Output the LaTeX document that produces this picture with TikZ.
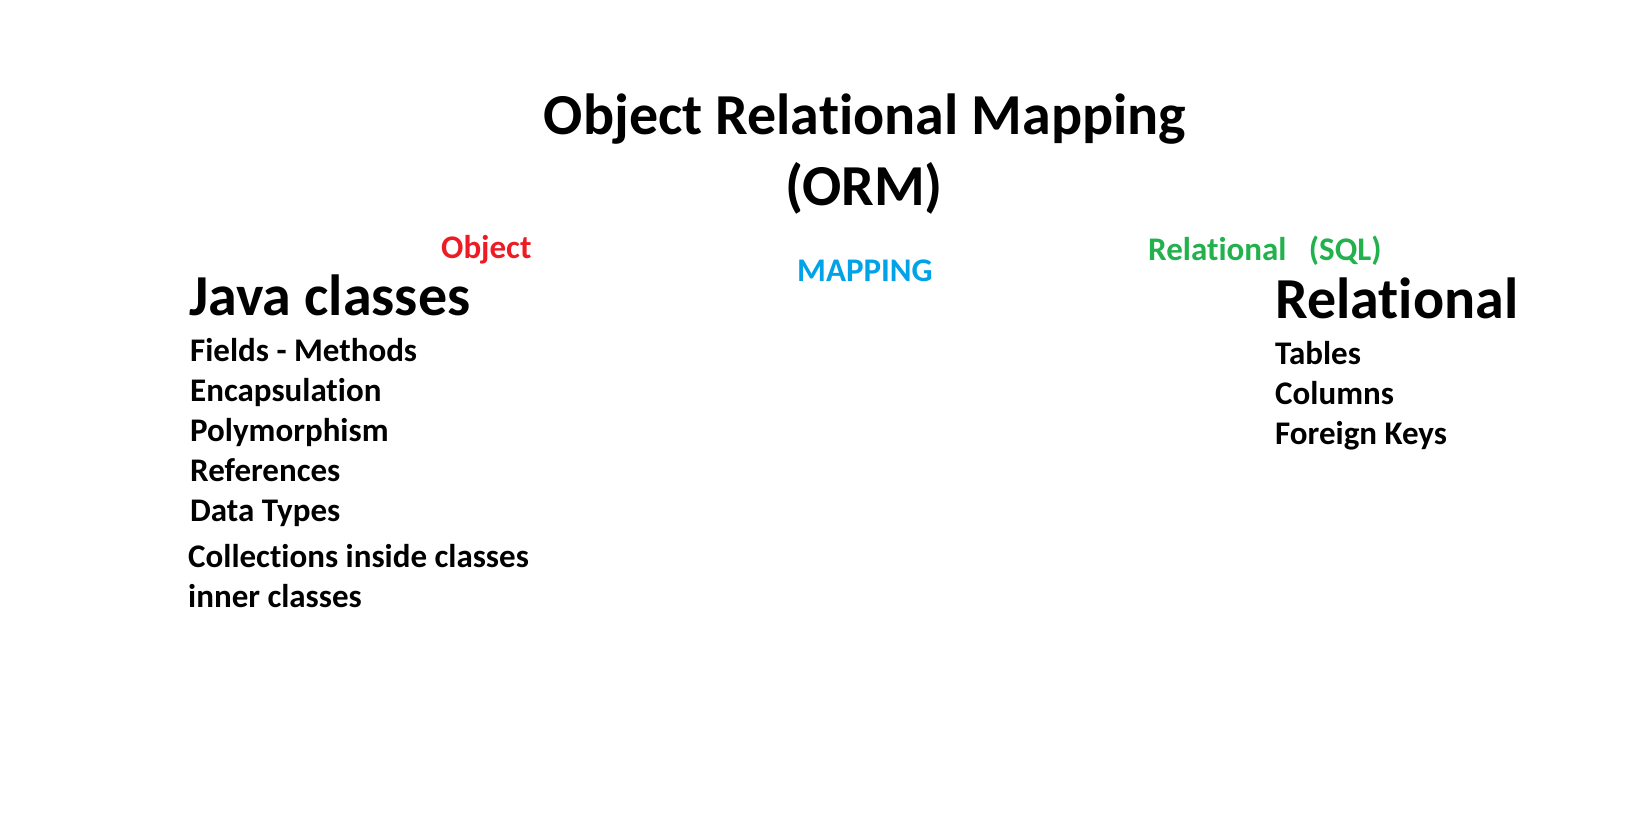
\documentclass[tikz,border=0pt]{standalone}
\usepackage{fontspec}
\setmainfont{Carlito}[RawFeature={-liga;-clig;-calt;-dlig;-rlig}]
\definecolor{objred}{HTML}{ED1C24}
\definecolor{mapblue}{HTML}{00A2E8}
\definecolor{relgreen}{HTML}{22B14C}
% keep "t" and "i" as separate glyphs
\newcommand\tii{t\kern0pt i}
\tikzset{
  txt/.style={inner sep=0pt, font=\bfseries},
  big/.style={txt, font=\bfseries\fontsize{58}{58}\selectfont},
  item/.style={txt, anchor=base west, font=\bfseries\fontsize{33}{33}\selectfont},
}
\begin{document}
\begin{tikzpicture}[x=1pt,y=-1pt]
  \useasboundingbox[fill=white] (0,0) rectangle (1650,828);
  % heading
  \node[big, anchor=base] (t1) at (865,134) {Object Rela\tii onal Mapping};
  \node[big, anchor=base] (t2) at (864,205) {(ORM)};
  % column labels
  \node[item, text=objred] (obj) at (441,258) {Object};
  \node[item, text=mapblue] (map) at (797,281) {MAPPING};
  \node[item, text=relgreen] (rel) at (1148,260) {Rela\tii onal~~~(SQL)};
  % object side
  \node[big, anchor=base west] (java) at (189,315) {Java classes};
  \node[item] (f1) at (190,361) {Fields - Methods};
  \node[item] (f2) at (190,401) {Encapsula\tii on};
  \node[item] (f3) at (190,441) {Polymorphism};
  \node[item] (f4) at (190,481) {References};
  \node[item] (f5) at (190,521) {Data Types};
  \node[item] (f6) at (188,567) {Collec\tii ons inside classes};
  \node[item] (f7) at (188,607) {inner classes};
  % relational side
  \node[big, anchor=base west] (relbig) at (1275,318) {Rela\tii onal};
  \node[item] (r1) at (1275,364) {Tables};
  \node[item] (r2) at (1275,404) {Columns};
  \node[item] (r3) at (1275,444) {Foreign Keys};
\end{tikzpicture}
\end{document}
